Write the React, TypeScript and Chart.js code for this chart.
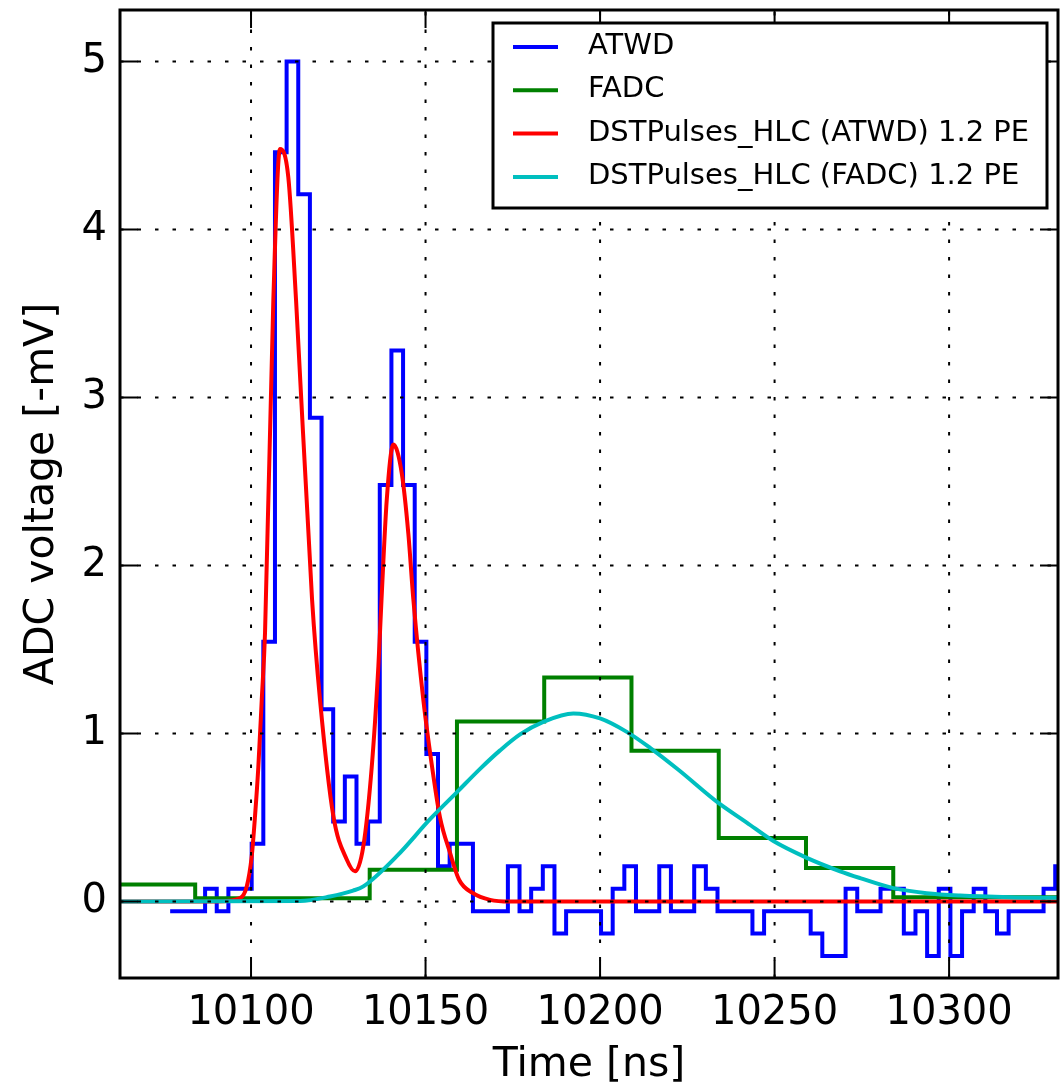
import React, { useEffect, useRef } from "react";
import { Chart, registerables } from "chart.js";

Chart.register(...registerables);

// ---------------- data ----------------
const seriesLabels = [
  "ATWD",
  "FADC",
  "DSTPulses_HLC (ATWD) 1.2 PE",
  "DSTPulses_HLC (FADC) 1.2 PE",
];
const seriesColors = ["#0000ff", "#008000", "#ff0000", "#00bfbf"];

// ATWD waveform: one value per sample bin
const atwdStartNs = 10076.83;
const atwdBinNs = 3.3365;
const atwdValues = [
  -0.057, -0.057, -0.057, 0.077, -0.057, 0.077, 0.077, 0.344, 1.546, 4.46,
  5.0, 4.21, 2.88, 1.145, 0.477, 0.744, 0.344, 0.477, 2.48, 3.28,
  2.48, 1.546, 0.878, 0.21, 0.344, 0.344, -0.057, -0.057, -0.057, 0.21,
  -0.057, 0.077, 0.21, -0.19, -0.057, -0.057, -0.057, -0.19, 0.077, 0.21,
  -0.057, -0.057, 0.21, -0.057, -0.057, 0.21, 0.077, -0.057, -0.057, -0.057,
  -0.19, -0.057, -0.057, -0.057, -0.057, -0.19, -0.324, -0.324, 0.077, -0.057,
  -0.057, 0.077, 0.077, -0.19, -0.057, -0.324, 0.077, -0.324, -0.057, 0.077,
  -0.057, -0.19, -0.057, -0.057, -0.057, 0.077, 0.21,
];

// FADC waveform: bin start times and values
const fadcTimes = [10059, 10084, 10109, 10134, 10159, 10184, 10209, 10234, 10259, 10284, 10309, 10334];
const fadcValues = [0.102, 0.02, 0.02, 0.19, 1.072, 1.334, 0.898, 0.379, 0.2, 0.025, 0.025, 0.025];

// Pulse reconstruction (ATWD)
const atwdFitTimes = [
  10062.5, 10090, 10096.85, 10098.77, 10100.2, 10101.15, 10102.09, 10103.07, 10104.01,
  10106.39, 10108.3, 10110.69, 10112.9, 10117.48, 10119.77, 10123.58, 10127.42,
  10129.8, 10132.18, 10134.58, 10136.48, 10137.39, 10138.88, 10140.77, 10143.18,
  10145.07, 10146.5, 10149.37, 10152.23, 10154.15, 10157.02, 10159.6, 10163.6,
  10168.48, 10174.2, 10250, 10331.5,
];
const atwdFitValues = [
  0.0, 0.0, 0.02, 0.09, 0.27, 0.51, 0.8, 1.2, 1.6,
  3.58, 4.48, 4.31, 3.58, 1.8, 1.2, 0.51, 0.25,
  0.18, 0.33, 0.8, 1.4, 1.8, 2.39, 2.72, 2.55,
  2.19, 1.8, 1.2, 0.75, 0.5, 0.29, 0.13, 0.05,
  0.01, 0.0, 0.0, 0.0,
];

// Pulse reconstruction (FADC)
const fadcFitTimes = [
  10062.46, 10114.04, 10122.64, 10129.23, 10132.18, 10141.75, 10151.29, 10158.94,
  10165.62, 10171.35, 10177.08, 10183.75, 10192.35, 10200.0, 10207.65, 10214.33,
  10222.35, 10233.9, 10242.03, 10249.66, 10259.23, 10268.77, 10274.5, 10284.04,
  10293.6, 10303.15, 10317.48, 10331.23,
];
const fadcFitValues = [
  0.0, 0.003, 0.03, 0.065, 0.09, 0.27, 0.49, 0.65,
  0.79, 0.9, 0.995, 1.07, 1.12, 1.09, 1.01, 0.915,
  0.786, 0.587, 0.47, 0.36, 0.26, 0.18, 0.14, 0.08,
  0.05, 0.036, 0.026, 0.022,
];

const xMin = 10062.46;
const xMax = 10331.2;
const yMin = -0.455;
const yMax = 5.307;
const xTickStep = 50;
const yTickStep = 1;
const xTitle = "Time [ns]";
const yTitle = "ADC voltage [-mV]";

// ---------------- plugins ----------------
const FONT = "'DejaVu Sans', 'Liberation Sans', sans-serif";

const mplFramePlugin = {
  id: "mplFrame",
  afterDatasetsDraw(chart: any) {
    const { ctx, chartArea } = chart;
    const { left, right, top, bottom } = chartArea;
    const xs = chart.scales.x;
    const ys = chart.scales.y;
    ctx.save();
    // dotted grid (drawn above data, like matplotlib classic)
    ctx.strokeStyle = "#000";
    ctx.lineWidth = 2;
    ctx.setLineDash([3.5, 14]);
    for (const t of xs.ticks) {
      const p = xs.getPixelForValue(t.value);
      ctx.beginPath();
      ctx.moveTo(p, bottom);
      ctx.lineTo(p, top);
      ctx.stroke();
    }
    for (const t of ys.ticks) {
      const p = ys.getPixelForValue(t.value);
      ctx.beginPath();
      ctx.moveTo(left, p);
      ctx.lineTo(right, p);
      ctx.stroke();
    }
    // inward ticks on all sides
    ctx.setLineDash([]);
    ctx.lineWidth = 2;
    const tl = 18;
    for (const t of xs.ticks) {
      const p = xs.getPixelForValue(t.value);
      ctx.beginPath();
      ctx.moveTo(p, bottom);
      ctx.lineTo(p, bottom - tl);
      ctx.moveTo(p, top);
      ctx.lineTo(p, top + tl);
      ctx.stroke();
    }
    for (const t of ys.ticks) {
      const p = ys.getPixelForValue(t.value);
      ctx.beginPath();
      ctx.moveTo(left, p);
      ctx.lineTo(left + tl, p);
      ctx.moveTo(right, p);
      ctx.lineTo(right - tl, p);
      ctx.stroke();
    }
    // frame
    ctx.lineWidth = 3;
    ctx.strokeRect(left, top, right - left, bottom - top);
    ctx.restore();
  },
  afterDraw(chart: any) {
    const { ctx } = chart;
    ctx.save();
    const bx = 493, by = 23, bw = 554, bh = 185;
    ctx.fillStyle = "#ffffff";
    ctx.fillRect(bx, by, bw, bh);
    ctx.lineWidth = 3;
    ctx.strokeStyle = "#000";
    ctx.strokeRect(bx, by, bw, bh);
    ctx.font = `29px ${FONT}`;
    ctx.textBaseline = "middle";
    ctx.textAlign = "left";
    chart.data.datasets
      .slice()
      .sort((a: any, b: any) => a.legendIndex - b.legendIndex)
      .forEach((ds: any, i: number) => {
        const yy = by + 24 + i * 43.3;
        ctx.strokeStyle = ds.borderColor;
        ctx.lineWidth = 4;
        ctx.beginPath();
        ctx.moveTo(bx + 20, yy);
        ctx.lineTo(bx + 65, yy);
        ctx.stroke();
        ctx.fillStyle = "#000";
        ctx.fillText(ds.label, bx + 95, yy - 0.5);
      });
    ctx.restore();
  },
};

// ---------------- component ----------------
export default function App() {
  const canvasRef = useRef<HTMLCanvasElement | null>(null);

  useEffect(() => {
    document.body.style.margin = "0";
    const canvas = canvasRef.current;
    if (!canvas) return;

    const atwdPoints = atwdValues.map((v, i) => ({ x: atwdStartNs + i * atwdBinNs, y: v }));
    atwdPoints.push({ x: atwdStartNs + atwdValues.length * atwdBinNs, y: atwdValues[atwdValues.length - 1] });
    const fadcPoints = fadcTimes.map((t, i) => ({ x: t, y: fadcValues[i] }));
    const atwdFitPoints = atwdFitTimes.map((t, i) => ({ x: t, y: atwdFitValues[i] }));
    const fadcFitPoints = fadcFitTimes.map((t, i) => ({ x: t, y: fadcFitValues[i] }));

    const common = { pointRadius: 0, borderWidth: 4, fill: false };

    const chart = new Chart(canvas, {
      type: "line",
      data: {
        datasets: [
          { ...common, label: seriesLabels[0], legendIndex: 0, order: 4, data: atwdPoints, borderColor: seriesColors[0], stepped: true, borderJoinStyle: "miter" } as any,
          { ...common, label: seriesLabels[1], legendIndex: 1, order: 3, data: fadcPoints, borderColor: seriesColors[1], stepped: true, borderJoinStyle: "miter" } as any,
          { ...common, label: seriesLabels[2], legendIndex: 2, order: 2, data: atwdFitPoints, borderColor: seriesColors[2], cubicInterpolationMode: "monotone" } as any,
          { ...common, label: seriesLabels[3], legendIndex: 3, order: 1, data: fadcFitPoints, borderColor: seriesColors[3], cubicInterpolationMode: "monotone" } as any,
        ],
      },
      options: {
        responsive: false,
        animation: false,
        devicePixelRatio: 1,
        layout: { padding: { top: 10, right: 2, left: 0, bottom: 0 } },
        plugins: {
          legend: { display: false },
          tooltip: { enabled: false },
        },
        scales: {
          x: {
            type: "linear",
            min: xMin,
            max: xMax,
            grid: { display: false, drawTicks: false },
            border: { display: false },
            ticks: {
              stepSize: xTickStep,
              includeBounds: false,
              autoSkip: false,
              maxRotation: 0,
              padding: 12,
              color: "#000",
              font: { family: FONT, size: 40 },
              callback: (v: any) => String(v),
            },
            title: {
              display: true,
              text: xTitle,
              color: "#000",
              font: { family: FONT, size: 41 },
              padding: { top: 0, bottom: -2 },
            },
            afterFit: (s: any) => {
              s.height = 110;
              s.paddingLeft = 0;
              s.paddingRight = 0;
            },
          },
          y: {
            type: "linear",
            min: yMin,
            max: yMax,
            grid: { display: false, drawTicks: false },
            border: { display: false },
            ticks: {
              stepSize: yTickStep,
              includeBounds: false,
              padding: 13,
              color: "#000",
              font: { family: FONT, size: 40 },
              callback: (v: any) => String(v),
            },
            title: {
              display: true,
              text: yTitle,
              color: "#000",
              font: { family: FONT, size: 41 },
              padding: { top: 18, bottom: 0 },
            },
            afterFit: (s: any) => {
              s.width = 120;
              s.paddingTop = 0;
              s.paddingBottom = 0;
            },
          },
        },
      } as any,
      plugins: [mplFramePlugin],
    });

    return () => chart.destroy();
  }, []);

  return (
    <div style={{ width: 1060, height: 1088, background: "#fff" }}>
      <canvas ref={canvasRef} width={1060} height={1088} style={{ display: "block" }} />
    </div>
  );
}
